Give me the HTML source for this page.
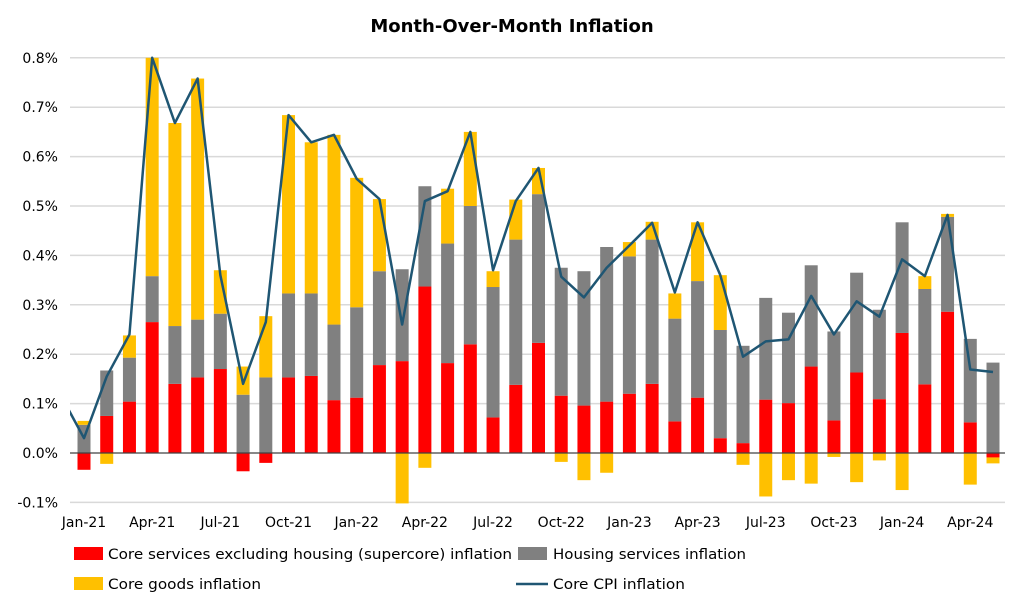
<!DOCTYPE html>
<html><head><meta charset="utf-8"><style>
html,body{margin:0;padding:0;background:#fff;}
svg{display:block;font-family:"DejaVu Sans","Liberation Sans",sans-serif;}
</style></head><body>
<svg id="chart" width="1024" height="606" viewBox="0 0 1024 606">
<text x="512" y="32" text-anchor="middle" font-size="18" font-weight="bold" fill="#000">Month-Over-Month Inflation</text>
<g id="grid"></g><g id="bars"></g><g id="line"></g><g id="axes"></g>
<g>
<rect x="74" y="547" width="29" height="13" fill="#ff0000"/>
<text x="108" y="559" font-size="14" textLength="404" lengthAdjust="spacingAndGlyphs">Core services excluding housing (supercore) inflation</text>
<rect x="518" y="547" width="29" height="13" fill="#808080"/>
<text x="553" y="559" font-size="14" textLength="193" lengthAdjust="spacingAndGlyphs">Housing services inflation</text>
<rect x="74" y="577" width="29" height="13" fill="#ffc000"/>
<text x="108" y="589" font-size="14" textLength="153" lengthAdjust="spacingAndGlyphs">Core goods inflation</text>
<line x1="516" y1="584" x2="548" y2="584" stroke="#1f5673" stroke-width="2.5"/>
<text x="553" y="589" font-size="14" textLength="132" lengthAdjust="spacingAndGlyphs">Core CPI inflation</text>
</g>
</svg>
<script>
const months=["Jan-21","Feb-21","Mar-21","Apr-21","May-21","Jun-21","Jul-21","Aug-21","Sep-21","Oct-21","Nov-21","Dec-21","Jan-22","Feb-22","Mar-22","Apr-22","May-22","Jun-22","Jul-22","Aug-22","Sep-22","Oct-22","Nov-22","Dec-22","Jan-23","Feb-23","Mar-23","Apr-23","May-23","Jun-23","Jul-23","Aug-23","Sep-23","Oct-23","Nov-23","Dec-23","Jan-24","Feb-24","Mar-24","Apr-24","May-24"];
const supercore=[-0.034,0.075,0.104,0.265,0.14,0.153,0.17,-0.037,-0.02,0.153,0.156,0.107,0.112,0.178,0.186,0.337,0.182,0.22,0.072,0.138,0.223,0.116,0.096,0.104,0.12,0.14,0.064,0.112,0.03,0.02,0.108,0.101,0.175,0.066,0.163,0.109,0.243,0.139,0.286,0.062,-0.009];
const housing=[0.057,0.092,0.089,0.093,0.117,0.117,0.112,0.118,0.153,0.17,0.167,0.153,0.183,0.19,0.186,0.203,0.242,0.28,0.264,0.294,0.301,0.259,0.272,0.313,0.278,0.292,0.208,0.236,0.219,0.197,0.206,0.183,0.205,0.18,0.202,0.181,0.224,0.193,0.192,0.169,0.183];
const goods=[0.008,-0.022,0.045,0.442,0.411,0.488,0.088,0.057,0.124,0.361,0.306,0.384,0.262,0.146,-0.102,-0.03,0.111,0.15,0.032,0.081,0.053,-0.018,-0.055,-0.04,0.029,0.036,0.051,0.119,0.111,-0.024,-0.088,-0.055,-0.062,-0.008,-0.059,-0.015,-0.075,0.026,0.006,-0.064,-0.012];
const coreCPI=[0.03,0.155,0.24,0.80,0.668,0.758,0.36,0.14,0.265,0.684,0.629,0.644,0.555,0.514,0.26,0.51,0.53,0.65,0.37,0.51,0.577,0.357,0.315,0.375,0.42,0.466,0.325,0.467,0.36,0.195,0.226,0.23,0.318,0.24,0.307,0.276,0.392,0.358,0.482,0.169,0.164];
const priorCPI=0.115;
const yTicks=[-0.1,0,0.1,0.2,0.3,0.4,0.5,0.6,0.7,0.8];
const xLabelEvery=3;

const NS="http://www.w3.org/2000/svg";
const L=70,R=1005,x0=84,step=(993-84)/40,bw=13;
const y=v=>453-v*494;
const x=i=>x0+i*step;
function mk(tag,attrs,parent){const e=document.createElementNS(NS,tag);for(const k in attrs)e.setAttribute(k,attrs[k]);parent.appendChild(e);return e;}
const grid=document.getElementById('grid'),bars=document.getElementById('bars'),lineG=document.getElementById('line'),axes=document.getElementById('axes');
yTicks.forEach(t=>{
  if(t!==0){const g=mk('line',{x1:L,x2:R,y1:y(t),y2:y(t),stroke:'#d9d9d9','stroke-width':1.5},grid);
  
  }
  const tx=mk('text',{x:58,y:y(t)+5,'text-anchor':'end','font-size':14,fill:'#000'},axes);
  tx.textContent=t.toFixed(1)+'%';
  
  
});
months.forEach((m,i)=>{
  const cx=x(i)-bw/2;
  let pos=0,neg=0;
  [[supercore[i],'#ff0000','bar-supercore'],[housing[i],'#808080','bar-housing'],[goods[i],'#ffc000','bar-goods']].forEach(([v,c,n])=>{
    let a,b;
    if(v>=0){a=pos;b=pos+v;pos=b;}else{a=neg;b=neg+v;neg=b;}
    const r=mk('rect',{x:cx,y:Math.min(y(a),y(b)),width:bw,height:Math.abs(y(a)-y(b)),fill:c},bars);
    
    
  });
  if(i%xLabelEvery===0){
    const tx=mk('text',{x:x(i),y:527,'text-anchor':'middle','font-size':14,fill:'#000'},axes);
    tx.textContent=m;
    
    
  }
});
const zl=mk('line',{x1:L,x2:R,y1:y(0),y2:y(0),stroke:'#404040','stroke-width':1.2},axes);


mk('clipPath',{id:'clip'},lineG).appendChild(Object.assign(document.createElementNS(NS,'rect'),{}));
const cr=lineG.querySelector('clipPath');cr.firstChild.setAttribute('x',L);cr.firstChild.setAttribute('y',0);cr.firstChild.setAttribute('width',R-L);cr.firstChild.setAttribute('height',606);
let d='M'+x(-1)+','+y(priorCPI);
coreCPI.forEach((v,i)=>{d+=' L'+x(i)+','+y(v);});
const p=mk('path',{d:d,fill:'none',stroke:'#1f5673','stroke-width':2.5,'stroke-linejoin':'round','clip-path':'url(#clip)'},lineG);


</script>
</body></html>
